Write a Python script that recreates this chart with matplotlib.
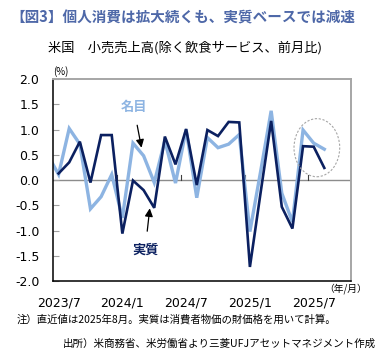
import matplotlib
matplotlib.use('Agg')
import matplotlib.pyplot as plt
import numpy as np
from matplotlib.patches import Ellipse

jp = ['Noto Sans CJK JP', 'DejaVu Sans']

# monthly data, 2023/6 .. 2025/8 (2023/6 only partly visible at the left edge)
months = ['2023/6', '2023/7', '2023/8', '2023/9', '2023/10', '2023/11', '2023/12',
          '2024/1', '2024/2', '2024/3', '2024/4', '2024/5', '2024/6',
          '2024/7', '2024/8', '2024/9', '2024/10', '2024/11', '2024/12',
          '2025/1', '2025/2', '2025/3', '2025/4', '2025/5', '2025/6',
          '2025/7', '2025/8']
nominal = [0.49, 0.11, 1.02, 0.71, -0.57, -0.33, 0.11,
           -0.75, 0.73, 0.48, -0.05, 0.78, -0.06,
           1.00, -0.35, 0.84, 0.64, 0.71, 0.90,
           -1.02, 0.16, 1.37, -0.26, -0.83, 0.99,
           0.73, 0.61]
real = [np.nan, 0.13, 0.35, 0.76, -0.05, 0.89, 0.89,
        -1.06, -0.01, -0.20, -0.55, 0.86, 0.31,
        1.01, -0.10, 0.99, 0.87, 1.15, 1.14,
        -1.72, -0.26, 1.17, -0.53, -0.96, 0.67,
        0.66, 0.24]
xlabels = ['2023/7', '2024/1', '2024/7', '2025/1', '2025/7']
yticks = [-2.0, -1.5, -1.0, -0.5, 0.0, 0.5, 1.0, 1.5, 2.0]

light = '#8db4e2'
navy = '#0b2060'

x = np.arange(len(months)) - 1  # 2023/7 -> 0
label_pos = [months.index(m) - 1 for m in xlabels]

fig = plt.figure(figsize=(3.86, 3.59), dpi=100)
ax = fig.add_axes([0.138, 0.217, 0.771, 0.563])

ax.axhline(0, color='#8c8c8c', lw=1.0, zorder=1)
# small category-boundary ticks on the zero line
for p in label_pos[1:]:
    ax.plot([p - 0.5, p - 0.5], [0, 0.1], color='#404040', lw=0.8, zorder=1)

ax.plot(x, nominal, color=light, lw=2.4, solid_joinstyle='miter', zorder=2)
ax.plot(x, real, color=navy, lw=1.9, solid_joinstyle='miter', zorder=3)

ax.set_xlim(-0.5, 27.5)
ax.set_ylim(-2.0, 2.0)
ax.set_yticks(yticks)
ax.set_yticklabels(['{:.1f}'.format(v) for v in yticks], fontsize=9)
ax.tick_params(axis='y', direction='in', length=4, color='#a0a0a0', pad=10)
ax.set_xticks(label_pos)
ax.set_xticklabels(xlabels, fontsize=9)
ax.tick_params(axis='x', length=0, pad=11)

for s in ['top', 'right']:
    ax.spines[s].set_color('#a6a6a6')
    ax.spines[s].set_linewidth(1.4)
for s in ['left', 'bottom']:
    ax.spines[s].set_color('black')
    ax.spines[s].set_linewidth(1.1)

ax.add_patch(Ellipse((24.3, 0.64), 4.3, 1.15, fill=False, ls=(0, (2, 1.5)),
                     ec='#a6a6a6', lw=0.8, zorder=4))

ax.annotate('名目', xy=(7.8, 0.64), xytext=(7.07, 1.44), family=jp, fontsize=9.5,
            color=light, weight='bold', ha='center', va='center',
            arrowprops=dict(arrowstyle='-|>,head_length=0.5,head_width=0.25',
                            color='black', lw=0.9, shrinkA=6, shrinkB=0))
ax.annotate('実質', xy=(8.58, -0.56), xytext=(8.15, -1.37), family=jp, fontsize=9.5,
            color=navy, weight='bold', ha='center', va='center',
            arrowprops=dict(arrowstyle='-|>,head_length=0.5,head_width=0.25',
                            color='black', lw=0.9, shrinkA=6, shrinkB=0))

fig.text(0.026, 0.95, '【図3】個人消費は拡大続くも、実質ベースでは減速', family=jp,
         fontsize=10.5, weight='bold', color='#4e68a8', va='center')
fig.text(0.124, 0.868, '米国　小売売上高(除く飲食サービス、前月比)', family=jp,
         fontsize=9.5, color='black', va='center')
fig.text(0.158, 0.802, '(%)', family=jp, fontsize=7, va='center', ha='center')
fig.text(0.896, 0.196, '（年/月）', family=jp, fontsize=7, va='center', ha='center')
fig.text(0.044, 0.111, '注）直近値は2025年8月。実質は消費者物価の財価格を用いて計算。',
         family=jp, fontsize=7.5, va='center')
fig.text(0.163, 0.042, '出所）米商務省、米労働省より三菱UFJアセットマネジメント作成',
         family=jp, fontsize=7.6, va='center')

plt.savefig('out.png', dpi=100)
